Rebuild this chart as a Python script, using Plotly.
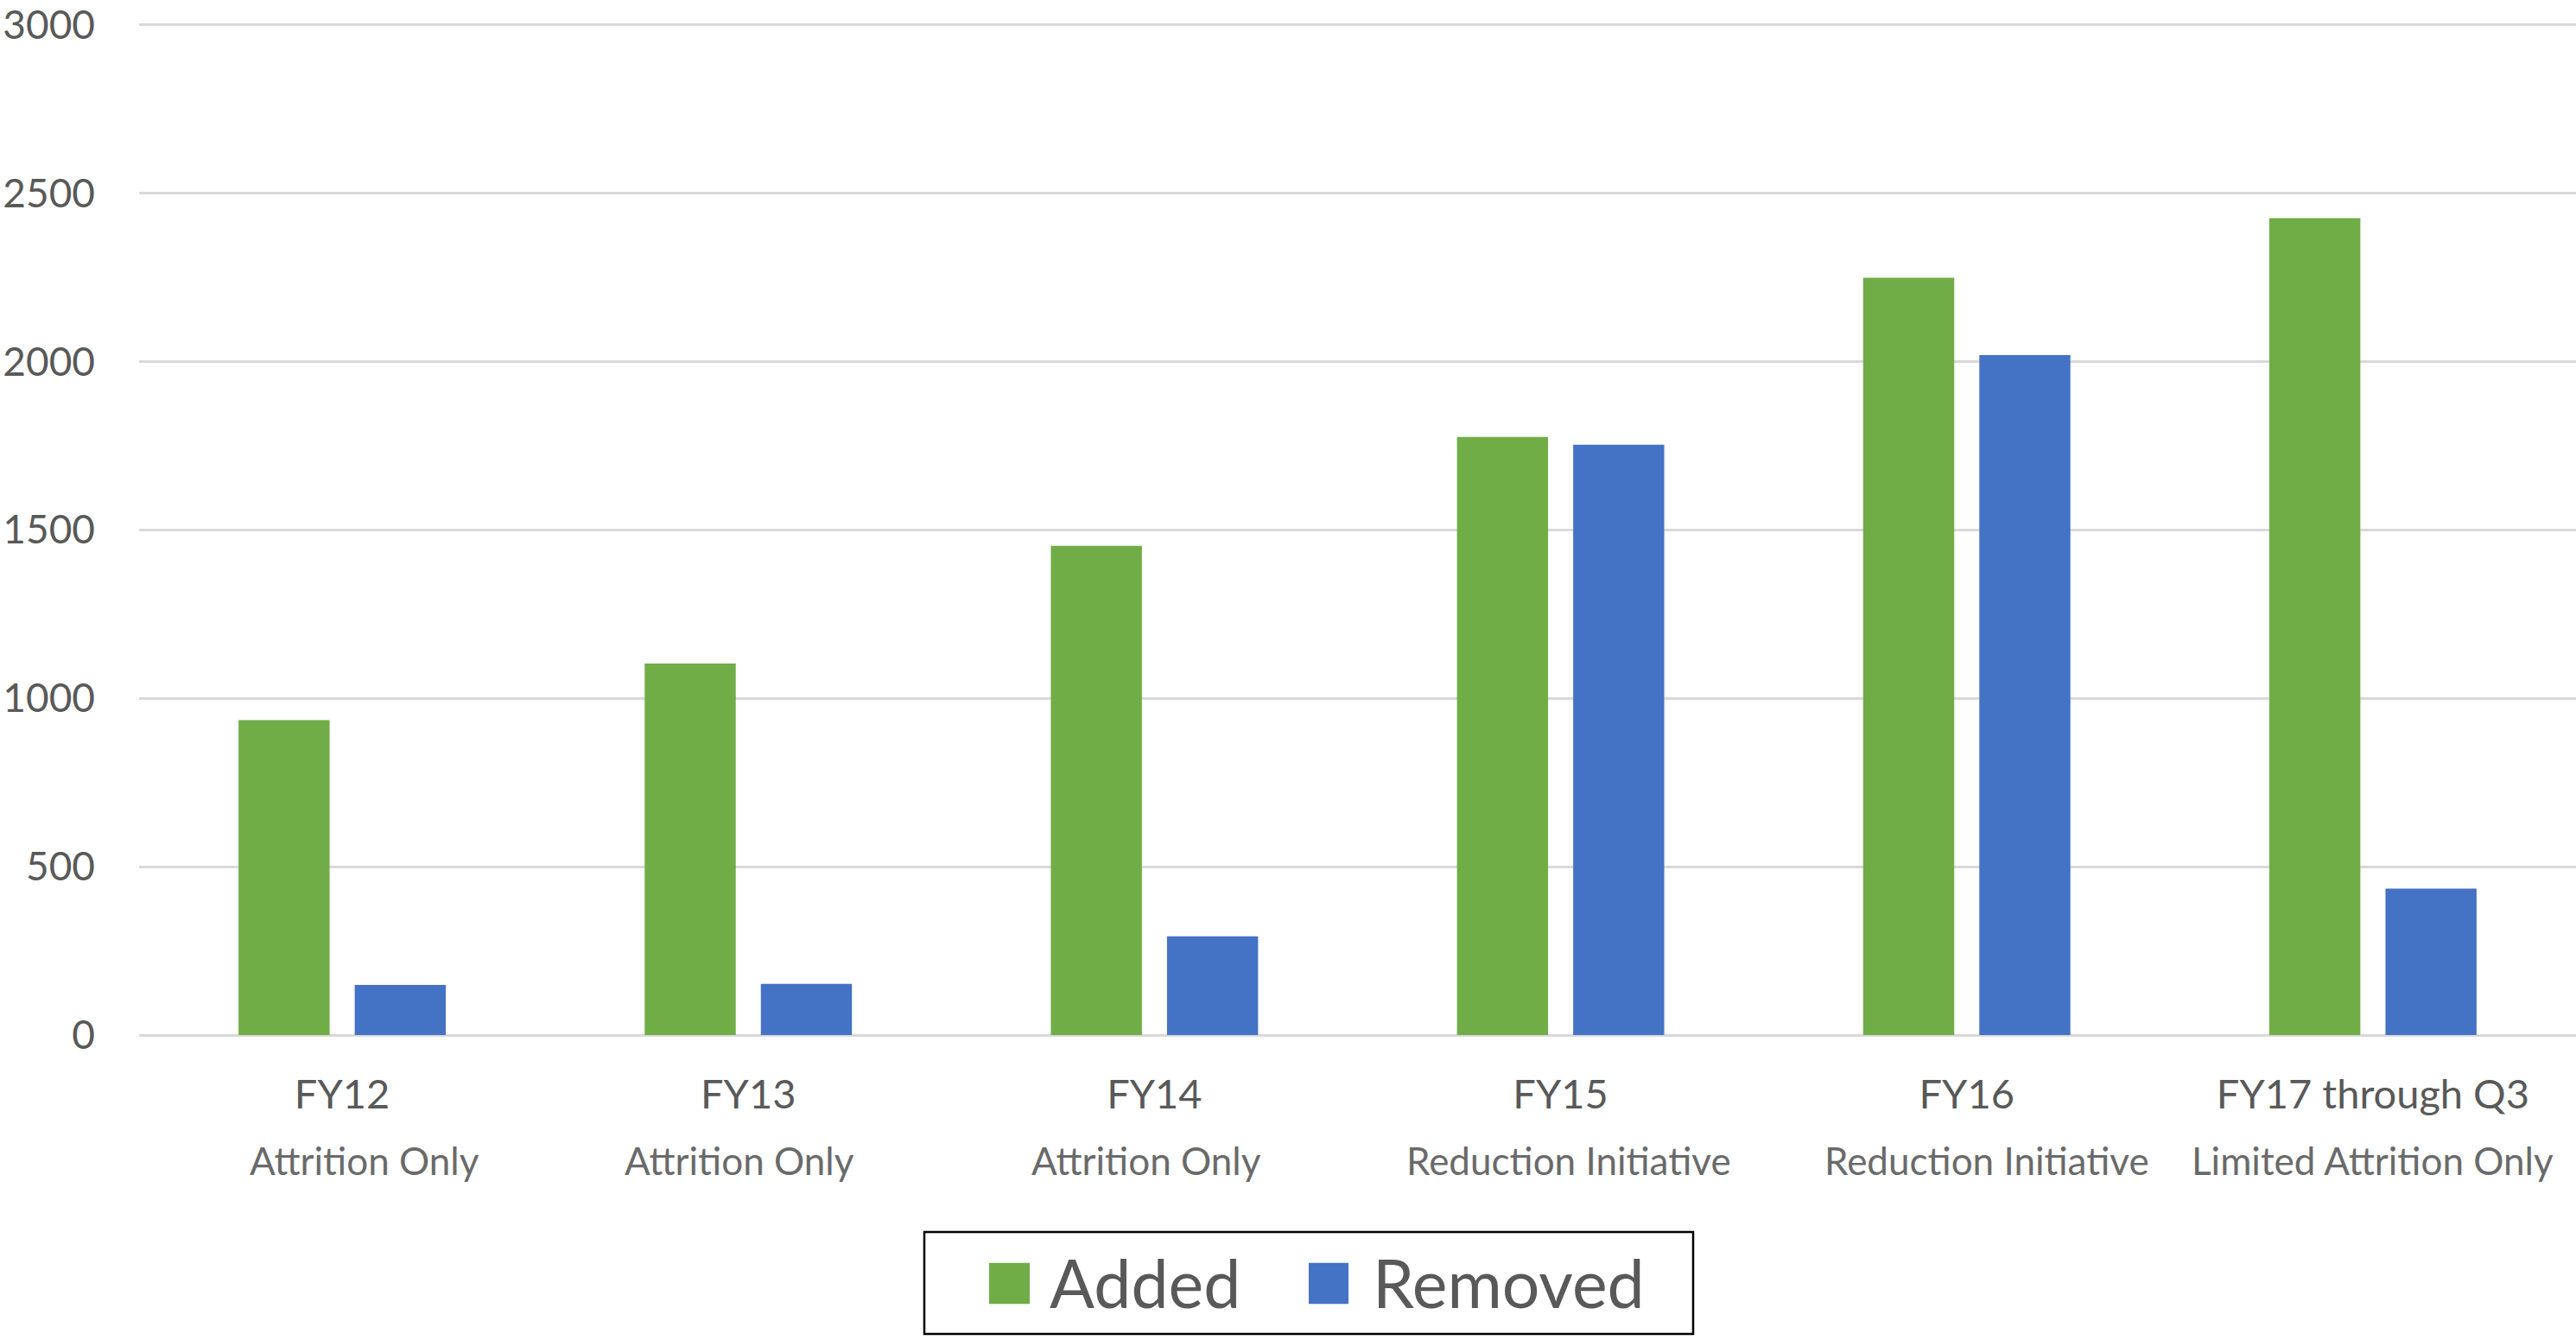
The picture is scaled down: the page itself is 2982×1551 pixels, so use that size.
import plotly.graph_objects as go

categories = ["FY12", "FY13", "FY14", "FY15", "FY16", "FY17 through Q3"]
subtitles = ["Attrition Only", "Attrition Only", "Attrition Only",
             "Reduction Initiative", "Reduction Initiative", "Limited Attrition Only"]
added = [935, 1103, 1453, 1776, 2249, 2426]
removed = [149, 152, 293, 1753, 2019, 435]
y_ticks = [0, 500, 1000, 1500, 2000, 2500, 3000]

GREEN = "#70AD47"
BLUE = "#4472C4"
TEXT = "#595959"
SUB = "#6a6a6a"
FONT = "Lato, 'Open Sans', sans-serif"

W, H = 2982, 1551
Y_MAX = 3012
ML, MR, MB = 161, 0, 352.5
ZERO_PX = H - MB
PX_PER_UNIT = (ZERO_PX - 21) / 3000
MT = ZERO_PX - Y_MAX * PX_PER_UNIT
PW = W - ML - MR
PH = H - MT - MB


def px_x(px):
    return (px - ML) / PW


def px_y(py):
    return (H - MB - py) / PH


fig = go.Figure()
fig.add_trace(go.Bar(x=categories, y=added, name="Added", marker=dict(color=GREEN, line=dict(width=0)),
                     showlegend=False))
fig.add_trace(go.Bar(x=categories, y=removed, name="Removed", marker=dict(color=BLUE, line=dict(width=0)),
                     showlegend=False))

# category subtitles
sub_shift = [26, -10, -9, 9, 23, 0]
for cat, sub, dx in zip(categories, subtitles, sub_shift):
    fig.add_annotation(x=cat, xref="x", y=px_y(1345), yref="paper", text=sub, showarrow=False,
                       xanchor="center", yanchor="middle", xshift=dx,
                       font=dict(family=FONT, size=44, color=SUB))

# manual legend
fig.add_shape(type="rect", xref="paper", yref="paper", x0=px_x(1070), x1=px_x(1960),
              y0=px_y(1547), y1=px_y(1428), line=dict(color="#000000", width=2.5),
              fillcolor="rgba(0,0,0,0)")
legend_items = [("Added", GREEN, 1145, 1192, 1213), ("Removed", BLUE, 1515, 1561, 1587)]
for name, col, x0, x1, tx in legend_items:
    fig.add_shape(type="rect", xref="paper", yref="paper", x0=px_x(x0), x1=px_x(x1),
                  y0=px_y(1512), y1=px_y(1464), line=dict(width=0), fillcolor=col)
    fig.add_annotation(x=px_x(tx), y=px_y(1487), xref="paper", yref="paper", text=name,
                       showarrow=False, xanchor="left", yanchor="middle",
                       font=dict(family=FONT, size=77, color=TEXT))

fig.update_layout(
    width=W, height=H,
    margin=dict(l=ML, r=MR, t=MT, b=MB, pad=0),
    paper_bgcolor="white", plot_bgcolor="white",
    barmode="group", bargap=0.428, bargroupgap=0.216,
    font=dict(family=FONT, color=TEXT),
    showlegend=False,
)
fig.update_xaxes(showgrid=False, showline=False, ticks="", zeroline=False,
                 tickfont=dict(family=FONT, size=47, color=TEXT), ticklabelstandoff=37)
fig.update_yaxes(range=[0, Y_MAX], tickvals=y_ticks, ticktext=[str(v) for v in y_ticks],
                 showgrid=True, gridcolor="#d9d9d9", gridwidth=2.5,
                 zeroline=True, zerolinecolor="#d9d9d9", zerolinewidth=2.5,
                 showline=False, ticks="", ticklabelstandoff=50, ticklabeloverflow="allow",
                 tickfont=dict(family=FONT, size=46, color=TEXT))

fig.write_html("out.html", config={"displayModeBar": False},
               post_script="document.body.style.margin='0';document.body.style.overflow='hidden';")
